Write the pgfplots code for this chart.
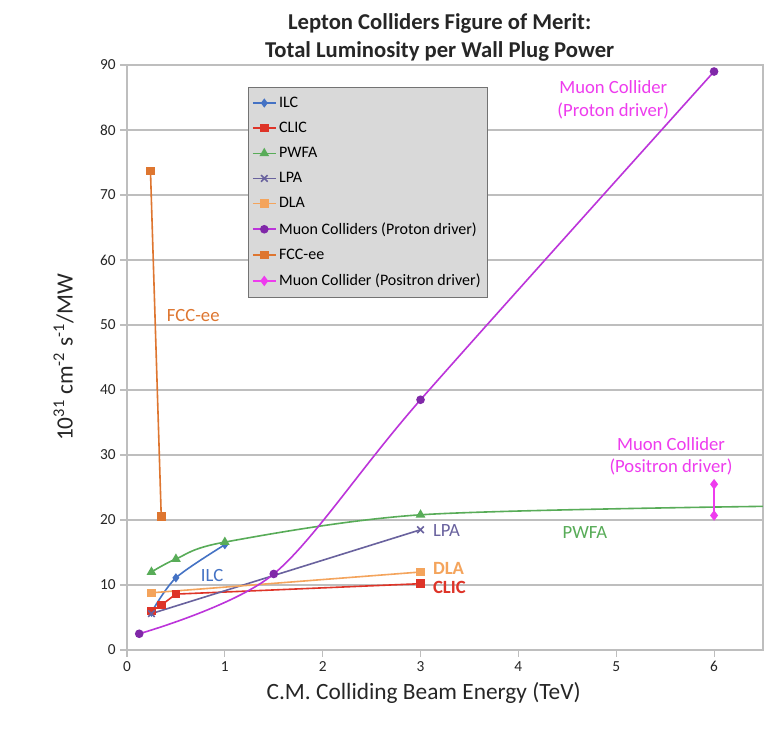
\documentclass[border=0pt]{standalone}
\usepackage{pgfplots}
\pgfplotsset{compat=1.18}
\usepackage{fontspec}
\setmainfont{Carlito}
\definecolor{cILC}{RGB}{68,114,196}
\definecolor{cCLIC}{RGB}{222,52,40}
\definecolor{cPWFA}{RGB}{88,172,88}
\definecolor{cLPA}{RGB}{105,98,158}
\definecolor{cDLA}{RGB}{244,164,92}
\definecolor{cMuP}{RGB}{188,52,218}
\definecolor{cMuPm}{RGB}{128,40,168}
\definecolor{cFCC}{RGB}{222,118,48}
\definecolor{cMuE}{RGB}{238,60,238}
\definecolor{cGrid}{RGB}{190,190,190}
\begin{document}
\begin{tikzpicture}
\fill[white] (0,0) rectangle (576.75pt,558pt);
\useasboundingbox (0,0) rectangle (576.75pt,558pt);
\begin{axis}[
  at={(95.25pt,70.5pt)}, anchor=south west,
  scale only axis, width=477pt, height=438.75pt,
  xmin=0, xmax=6.5, ymin=0, ymax=90,
  xtick={0,1,2,3,4,5,6}, ytick={0,10,...,90},
  ymajorgrids, grid style={cGrid, line width=0.8pt},
  axis line style={cGrid, line width=0.8pt},
  tick style={cGrid, line width=0.8pt},
  tick align=outside, major tick length=5pt,
  xtick pos=bottom, ytick pos=left,
  /pgf/number format/assume math mode=true,
  ticklabel style={font=\fontsize{11.5}{13}\selectfont, text=black!85},
  xlabel={C.M. Colliding Beam Energy (TeV)},
  ylabel={10\textsuperscript{31} cm\textsuperscript{-2} s\textsuperscript{-1}/MW},
  label style={font=\fontsize{17.5}{20}\selectfont, text=black!85},
  xlabel style={yshift=-1pt, xshift=-16pt},
  ylabel style={yshift=13pt},
  title={\textbf{Lepton Colliders Figure of Merit:}\\\textbf{Total Luminosity per Wall Plug Power}},
  title style={font=\fontsize{17}{21}\selectfont, align=center, text=black!85, yshift=-7pt, xshift=-4pt},
  legend style={at={(0.19,0.962)}, anchor=north west, fill=black!15, draw=black!55,
    font=\fontsize{12}{13}\selectfont, row sep=5.6pt, inner xsep=3pt, inner ysep=5pt},
  legend cell align=left,
  clip=true,
]
\addplot[cILC, line width=1.2pt, smooth, mark=diamond*, mark size=2.5pt] coordinates {(0.25,5.8) (0.5,11.1) (1.0,16.2)};
\addlegendentry{ILC}
\addplot[cCLIC, line width=1.2pt, mark=square*, mark size=2.6pt] coordinates {(0.25,6.0) (0.35,6.9) (0.5,8.6) (3.0,10.2)};
\addlegendentry{CLIC}
\addplot[cPWFA, line width=1.2pt, smooth, mark=triangle*, mark size=3pt, mark indices={1,2,3,4}, legend image post style={mark indices={2}}] coordinates {(0.25,12.0) (0.5,14.0) (1.0,16.6) (3.0,20.8) (6.5,22.1)};
\addlegendentry{PWFA}
\addplot[cLPA, line width=1.2pt, mark=x, mark size=3.5pt] coordinates {(0.25,5.6) (3.0,18.5)};
\addlegendentry{LPA}
\addplot[cDLA, line width=1.2pt, mark=square*, mark size=2.6pt] coordinates {(0.25,8.8) (3.0,12.0)};
\addlegendentry{DLA}
\addplot[cMuP, line width=1.2pt, smooth, tension=0.5, mark=*, mark size=2.6pt, mark options={fill=cMuPm, draw=cMuPm}] coordinates {(0.125,2.5) (1.5,11.7) (3.0,38.5) (6.0,89.0)};
\addlegendentry{Muon Colliders (Proton driver)}
\addplot[cFCC, line width=1.2pt, mark=square*, mark size=2.6pt] coordinates {(0.24,73.7) (0.35,20.5)};
\addlegendentry{FCC-ee}
\addplot[cMuE, line width=1.2pt, mark=diamond*, mark size=3pt] coordinates {(6.0,20.7) (6.0,25.5)};
\addlegendentry{Muon Collider (Positron driver)}
\node[text=cILC, font=\fontsize{14}{16}\selectfont] at (axis cs:0.87,11.5) {ILC};
\node[text=cLPA, font=\fontsize{14}{16}\selectfont, anchor=west] at (axis cs:3.08,18.4) {LPA};
\node[text=cDLA, font=\fontsize{14}{16}\selectfont\bfseries, anchor=west] at (axis cs:3.08,12.5) {DLA};
\node[text=cCLIC, font=\fontsize{14}{16}\selectfont\bfseries, anchor=west] at (axis cs:3.08,9.6) {CLIC};
\node[text=cPWFA, font=\fontsize{14}{16}\selectfont] at (axis cs:4.68,18.0) {PWFA};
\node[text=cFCC, font=\fontsize{14}{16}\selectfont, anchor=west] at (axis cs:0.36,51.4) {FCC-ee};
\node[text=cMuE, font=\fontsize{14}{17}\selectfont, align=center] at (axis cs:4.97,84.6) {Muon Collider\\(Proton driver)};
\node[text=cMuE, font=\fontsize{14}{17}\selectfont, align=center] at (axis cs:5.56,29.8) {Muon Collider\\(Positron driver)};
\end{axis}
\end{tikzpicture}
\end{document}
